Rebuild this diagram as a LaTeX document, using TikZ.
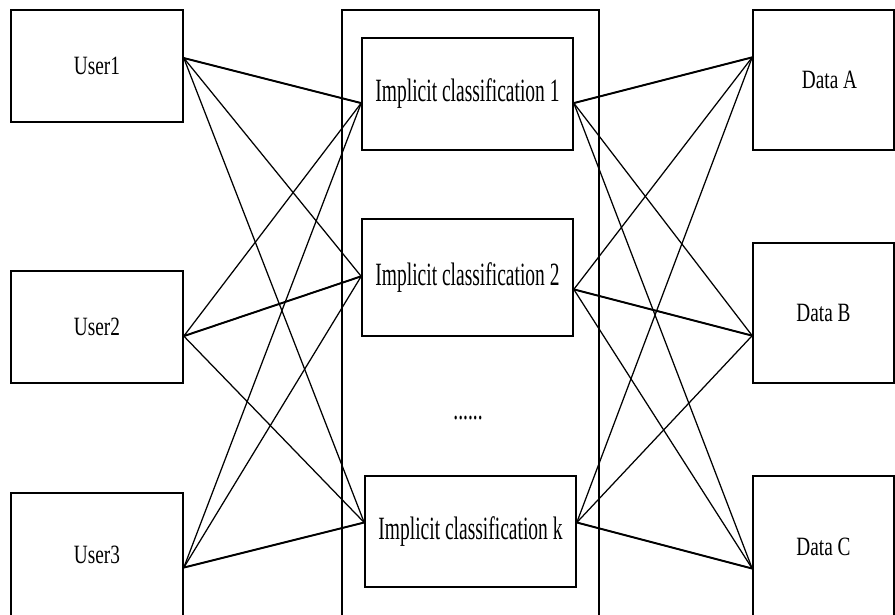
\documentclass[tikz,border=0pt]{standalone}
\usepackage{fontspec}
\usetikzlibrary{calc}
\newfontfamily\lblfont{Liberation Serif}[FakeStretch=0.73]
\newfontfamily\clsfont{Liberation Serif}[FakeStretch=0.6]
\newcommand{\lblsize}{\fontsize{26.4}{30}\selectfont}
\newcommand{\clssize}{\fontsize{32.5}{36}\selectfont}
\tikzset{
  box/.style={draw,line width=1.6pt,inner sep=0,font=\lblfont\lblsize},
  clsbox/.style={box,font=\clsfont\clssize},
  link/.style={line width=1.25pt},
  mainlink/.style={line width=1.9pt}
}

\begin{document}
\begin{tikzpicture}[x=1pt,y=-1pt]
\useasboundingbox (0,0) rectangle (895,614);
\clip (0,0) rectangle (895,614);
% users
\node[box,minimum width=172,minimum height=112] (u1) at (97,66) {User1};
\node[box,minimum width=172,minimum height=112] (u2) at (97,327) {User2};
\node[box,minimum width=172,minimum height=124] (u3) at (97,555) {User3};
% implicit classifications
\node[box,minimum width=257,minimum height=620] (frame) at (470.5,320) {};
\node[clsbox,minimum width=211,minimum height=112] (c1) at (467.5,94) {Implicit classification 1};
\node[clsbox,minimum width=211,minimum height=117] (c2) at (467.5,277.5) {Implicit classification 2};
\node[clsbox,minimum width=211,minimum height=111] (ck) at (470.5,531.5) {Implicit classification k};
\node[anchor=base,inner sep=0,font=\clsfont\clssize] (dots) at (468,419) {......};
% data
\node[box,minimum width=141,minimum height=140] (dA) at (823.5,80) {\hspace*{12pt}Data A};
\node[box,minimum width=141,minimum height=140] (dB) at (823.5,313) {Data B};
\node[box,minimum width=141,minimum height=142] (dC) at (823.5,547) {Data C};
% connection points
\coordinate (u1p) at ($(u1.north east)!0.43!(u1.south east)$);
\coordinate (u2p) at ($(u2.north east)!0.58!(u2.south east)$);
\coordinate (u3p) at ($(u3.north east)!0.60!(u3.south east)$);
\coordinate (c1l) at ($(c1.north west)!0.58!(c1.south west)$);
\coordinate (c2l) at ($(c2.north west)!0.49!(c2.south west)$);
\coordinate (ckl) at ($(ck.north west)!0.42!(ck.south west)$);
\coordinate (c1r) at ($(c1.north east)!0.58!(c1.south east)$);
\coordinate (c2r) at ($(c2.north east)!0.60!(c2.south east)$);
\coordinate (ckr) at ($(ck.north east)!0.42!(ck.south east)$);
\coordinate (dAp) at ($(dA.north west)!0.34!(dA.south west)$);
\coordinate (dBp) at ($(dB.north west)!0.66!(dB.south west)$);
\coordinate (dCp) at ($(dC.north west)!0.65!(dC.south west)$);
\foreach \u in {u1p,u2p,u3p}
  \foreach \c in {c1l,c2l,ckl}
    \draw[link] (\u) -- (\c);
\foreach \c in {c1r,c2r,ckr}
  \foreach \d in {dAp,dBp,dCp}
    \draw[link] (\c) -- (\d);
\draw[mainlink] (u1p) -- (c1l);
\draw[mainlink] (u2p) -- (c2l);
\draw[mainlink] (u3p) -- (ckl);
\draw[mainlink] (c1r) -- (dAp);
\draw[mainlink] (c2r) -- (dBp);
\draw[mainlink] (ckr) -- (dCp);
\end{tikzpicture}
\end{document}
